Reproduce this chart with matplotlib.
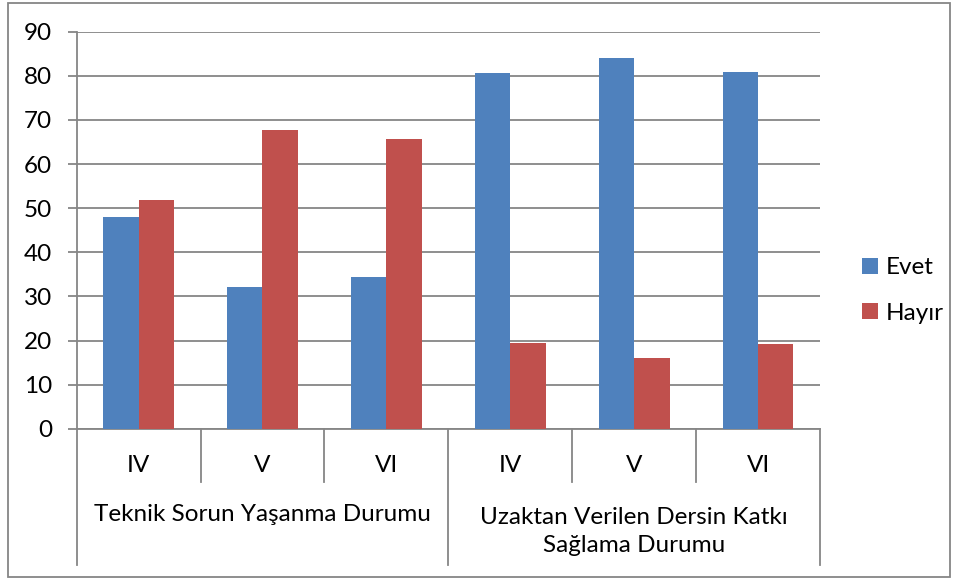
import matplotlib.pyplot as plt
import matplotlib.transforms as mtransforms
from matplotlib.patches import Rectangle
import numpy as np

plt.rcParams['font.family'] = ['Lato', 'DejaVu Sans']

groups = ['Teknik Sorun Yaşanma Durumu', 'Uzaktan Verilen Dersin Katkı\nSağlama Durumu']
sub_labels = ['IV', 'V', 'VI', 'IV', 'V', 'VI']
evet = [48.1, 32.2, 34.3, 80.6, 84.0, 80.8]
hayir = [51.9, 67.7, 65.7, 19.4, 16.0, 19.2]

blue = '#4F81BD'
red = '#C0504D'
gray = '#868686'
fs = 17.5

fig = plt.figure(figsize=(9.58, 5.81), dpi=100)
ax = fig.add_axes([0.080, 0.262, 0.776, 0.6835])

x = np.arange(len(sub_labels))
w = 0.2857
ax.bar(x - w / 2, evet, w, color=blue, label='Evet', zorder=3)
ax.bar(x + w / 2, hayir, w, color=red, label='Hayır', zorder=3)

ax.set_xlim(-0.5, len(sub_labels) - 0.5)
ax.set_ylim(0, 90)
ax.set_yticks(range(0, 91, 10))
ax.yaxis.grid(True, color=gray, linewidth=1.3, zorder=0)
ax.set_xticks([])
ax.tick_params(axis='y', length=6.5, width=1.3, color=gray, labelsize=fs, pad=11)

for s in ['top', 'right']:
    ax.spines[s].set_visible(False)
for s in ['left', 'bottom']:
    ax.spines[s].set_color(gray)
    ax.spines[s].set_linewidth(1.3)

# multi-level category axis
trans = mtransforms.blended_transform_factory(ax.transData, ax.transAxes)
for i in range(1, len(sub_labels)):
    if i == 3:
        continue
    ax.plot([i - 0.5, i - 0.5], [0, -0.1335], transform=trans, color=gray,
            linewidth=1.3, clip_on=False)
for xv in [-0.5, 2.5, 5.5]:
    ax.plot([xv, xv], [0, -0.3426], transform=trans, color=gray,
            linewidth=1.3, clip_on=False)
for xi, lab in zip(x, sub_labels):
    ax.text(xi, -0.0914, lab, transform=trans, ha='center', va='center', fontsize=fs)
ax.text(1, -0.217, groups[0], transform=trans, ha='center', va='center', fontsize=fs)
ax.text(4, -0.258, groups[1], transform=trans, ha='center', va='center', fontsize=fs,
        linespacing=1.4)

ax.legend(loc='center left', bbox_to_anchor=(1.040, 0.348), frameon=False, fontsize=fs,
          borderpad=0, handlelength=0.65, handleheight=0.65, handletextpad=0.35,
          labelspacing=1.0)

fig.add_artist(Rectangle((8 / 958, 1 - 577 / 581), 942 / 958, 574 / 581,
                         transform=fig.transFigure, fill=False, edgecolor=gray,
                         linewidth=1.3))

fig.savefig('out.png', dpi=100)
